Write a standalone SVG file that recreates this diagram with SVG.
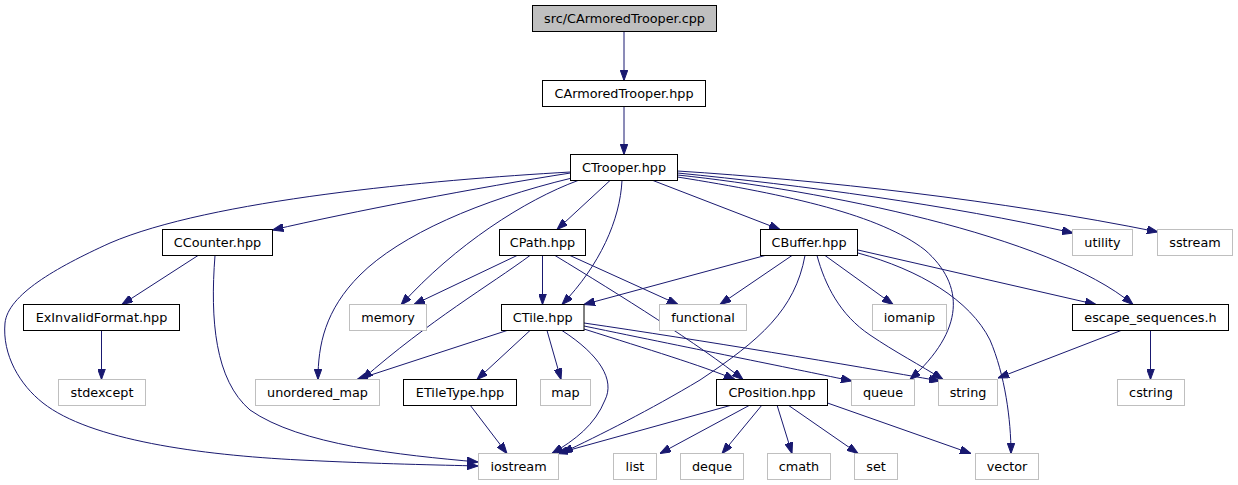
<svg xmlns="http://www.w3.org/2000/svg" width="1238" height="485" viewBox="0 0 1238 485">
<style>
.n rect{fill:#fff;stroke:#000;stroke-width:1}
.g rect{fill:#fff;stroke:#bfbfbf;stroke-width:1}
.r rect{fill:#bfbfbf;stroke:#000;stroke-width:1}
text{font-family:"DejaVu Sans","Liberation Sans",sans-serif;font-size:12.8px;fill:#000;text-anchor:middle}
#edges path{fill:none;stroke:#191970;stroke-width:1;marker-end:url(#ah)}
</style>
<defs>
<marker id="ah" markerWidth="11" markerHeight="8" refX="11" refY="4" orient="auto" markerUnits="userSpaceOnUse"><path d="M0,0 L11,4 L0,8 z" fill="#191970" stroke="#191970" stroke-width="1"/></marker>
</defs>
<rect width="1238" height="485" fill="#fff"/>
<g id="edges">
<path d="M624,31.5 L624,80.5"/>
<path d="M624,106.5 L624,154.5"/>
<path d="M570.5,173 C480,187 350,212 272.5,230"/>
<path d="M570.5,172 C430,180 210,200 110,243 C55,268 8,295 5,323 C2,355 20,385 43,403 C90,440 200,455 300,460 C380,464 440,465 478,466"/>
<path d="M578,180.5 C525,200 455,245 401,305"/>
<path d="M572,178 C480,200 400,235 360,275 C325,310 318,345 318,379.5"/>
<path d="M610,180.5 L557,229.5"/>
<path d="M622,180.5 C620,220 600,265 562,304.5"/>
<path d="M653,180.5 L780,229.5"/>
<path d="M677.5,173 C800,185 950,205 1073,233"/>
<path d="M677.5,171 C820,180 1000,200 1158,232"/>
<path d="M677.5,175 C820,190 1050,235 1133,304.5"/>
<path d="M677.5,177 C790,195 880,215 925,250 C965,285 965,330 910,379.5"/>
<path d="M198,255.5 L122,304.5"/>
<path d="M215,255.5 C210,320 215,380 250,410 C300,445 400,455 478,462"/>
<path d="M101.5,330.5 L101.5,379.5"/>
<path d="M517,255.5 L414,304.5"/>
<path d="M530,255.5 C490,285 430,320 362,379.5"/>
<path d="M542.5,255.5 L542.5,304.5"/>
<path d="M570,255.5 L678,304.5"/>
<path d="M555,255.5 C620,295 700,345 743,379.5"/>
<path d="M765,255.5 L584,304.5"/>
<path d="M792,255.5 L720,304.5"/>
<path d="M805,255.5 C795,310 760,340 700,380 C650,410 600,435 562,453"/>
<path d="M825,255.5 L893,304.5"/>
<path d="M817,255.5 C825,285 840,315 870,335 C895,352 920,365 943,379.5"/>
<path d="M858,253 C920,270 970,300 990,340 C1005,375 1011,420 1011,453.5"/>
<path d="M858,250 L1096,304.5"/>
<path d="M507,330.5 L357,379.5"/>
<path d="M530,330.5 L477,379.5"/>
<path d="M547,330.5 L561,379.5"/>
<path d="M562,330.5 C600,355 615,380 605,400 C595,425 575,440 552,453.5"/>
<path d="M584,329 C650,350 700,365 735,379.5"/>
<path d="M584,326 C700,350 800,370 852,381"/>
<path d="M584,323 C700,340 850,365 940,381"/>
<path d="M732,405 L557,453.5"/>
<path d="M750,405 L660,453.5"/>
<path d="M762,405 L722,453.5"/>
<path d="M777,405 L792,453.5"/>
<path d="M788,405 L858,453.5"/>
<path d="M827.5,403 L971,453.5"/>
<path d="M470,405 L507,453.5"/>
<path d="M1121,330.5 L998,378"/>
<path d="M1150.5,330.5 L1150.5,379.5"/>
</g>
<g id="node-cpp" class="r"><rect x="532.5" y="5.5" width="184" height="26"/><text x="624.5" y="22.5">src/CArmoredTrooper.cpp</text></g>
<g id="node-CArmoredTrooper" class="n"><rect x="542.5" y="80.5" width="163" height="26"/><text x="624" y="97.5">CArmoredTrooper.hpp</text></g>
<g id="node-CTrooper" class="n"><rect x="570.5" y="154.5" width="107" height="26"/><text x="624" y="171.5">CTrooper.hpp</text></g>
<g id="node-CCounter" class="n"><rect x="162.5" y="229.5" width="110" height="26"/><text x="217.5" y="246.5">CCounter.hpp</text></g>
<g id="node-CPath" class="n"><rect x="499.5" y="229.5" width="86" height="26"/><text x="542.5" y="246.5">CPath.hpp</text></g>
<g id="node-CBuffer" class="n"><rect x="760.5" y="229.5" width="97" height="26"/><text x="809" y="246.5">CBuffer.hpp</text></g>
<g id="node-utility" class="g"><rect x="1072.5" y="229.5" width="60" height="26"/><text x="1102.5" y="246.5">utility</text></g>
<g id="node-sstream" class="g"><rect x="1157.5" y="229.5" width="75" height="26"/><text x="1195" y="246.5">sstream</text></g>
<g id="node-ExInvalidFormat" class="n"><rect x="23.5" y="304.5" width="156" height="26"/><text x="101.5" y="321.5">ExInvalidFormat.hpp</text></g>
<g id="node-memory" class="g"><rect x="349.5" y="304.5" width="77" height="26"/><text x="388" y="321.5">memory</text></g>
<g id="node-CTile" class="n"><rect x="501.5" y="304.5" width="82.5" height="26"/><text x="542.75" y="321.5">CTile.hpp</text></g>
<g id="node-functional" class="g"><rect x="659.5" y="304.5" width="87" height="26"/><text x="703" y="321.5">functional</text></g>
<g id="node-iomanip" class="g"><rect x="872.5" y="304.5" width="74" height="26"/><text x="909.5" y="321.5">iomanip</text></g>
<g id="node-escape_sequences" class="n"><rect x="1072.5" y="304.5" width="156" height="26"/><text x="1150.5" y="321.5">escape_sequences.h</text></g>
<g id="node-stdexcept" class="g"><rect x="58.5" y="379.5" width="87" height="26"/><text x="102" y="396.5">stdexcept</text></g>
<g id="node-unordered_map" class="g"><rect x="255.5" y="379.5" width="124" height="26"/><text x="317.5" y="396.5">unordered_map</text></g>
<g id="node-ETileType" class="n"><rect x="403.5" y="379.5" width="113" height="26"/><text x="460" y="396.5">ETileType.hpp</text></g>
<g id="node-map" class="g"><rect x="540.5" y="379.5" width="50" height="26"/><text x="565.5" y="396.5">map</text></g>
<g id="node-CPosition" class="n"><rect x="716.5" y="379.5" width="111" height="26"/><text x="772" y="396.5">CPosition.hpp</text></g>
<g id="node-queue" class="g"><rect x="851.5" y="379.5" width="63" height="26"/><text x="883" y="396.5">queue</text></g>
<g id="node-string" class="g"><rect x="938.5" y="379.5" width="59" height="26"/><text x="968" y="396.5">string</text></g>
<g id="node-cstring" class="g"><rect x="1117.5" y="379.5" width="67" height="26"/><text x="1151" y="396.5">cstring</text></g>
<g id="node-iostream" class="g"><rect x="478.5" y="453.5" width="80" height="26"/><text x="518.5" y="470.5">iostream</text></g>
<g id="node-list" class="g"><rect x="613.5" y="453.5" width="43" height="26"/><text x="635" y="470.5">list</text></g>
<g id="node-deque" class="g"><rect x="680.5" y="453.5" width="63" height="26"/><text x="712" y="470.5">deque</text></g>
<g id="node-cmath" class="g"><rect x="767.5" y="453.5" width="63" height="26"/><text x="799" y="470.5">cmath</text></g>
<g id="node-set" class="g"><rect x="854.5" y="453.5" width="43" height="26"/><text x="876" y="470.5">set</text></g>
<g id="node-vector" class="g"><rect x="975.5" y="453.5" width="63" height="26"/><text x="1007" y="470.5">vector</text></g>
</svg>
